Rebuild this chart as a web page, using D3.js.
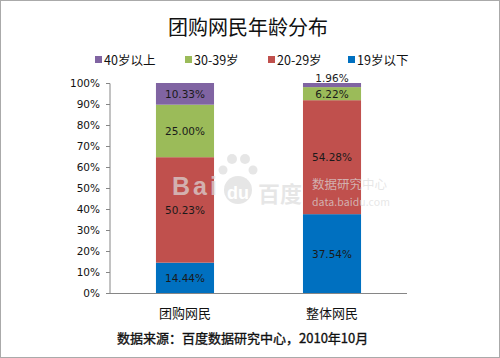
<!DOCTYPE html>
<html><head><meta charset="utf-8">
<script src="https://cdn.jsdelivr.net/npm/d3@7"></script>
<style>body{margin:0;background:#fff;}svg{display:block;font-family:"Noto Sans CJK SC","DejaVu Sans",sans-serif;}</style>
</head><body><svg id="c" width="500" height="358"></svg>
<script>
const categories = ["团购网民", "整体网民"];
const seriesNames = ["19岁以下", "20-29岁", "30-39岁", "40岁以上"];
const under19 = [14.44, 37.54];
const age20_29 = [50.23, 54.28];
const age30_39 = [25.00, 6.22];
const over40 = [10.33, 1.96];
const colors = ["#0070C0", "#C0504D", "#9BBB59", "#8064A2"];
const yTicks = [0,10,20,30,40,50,60,70,80,90,100];
const legendOrder = ["40岁以上", "30-39岁", "20-29岁", "19岁以下"];

const svg = d3.select("#c");
svg.append("rect").attr("x",0.5).attr("y",0.5).attr("width",499).attr("height",357)
  .attr("fill","#fff").attr("stroke","#aaa");

const data = categories.map((c,i)=>({cat:c, "19岁以下":under19[i], "20-29岁":age20_29[i], "30-39岁":age30_39[i], "40岁以上":over40[i]}));
const stack = d3.stack().keys(seriesNames)(data);

const x = d3.scaleBand().domain(categories).range([110,407]).paddingInner(0.605).paddingOuter(0.3126);
const y = d3.scaleLinear().domain([0,100]).range([293,83]);

// title
svg.append("text").attr("x",248).attr("y",35).attr("text-anchor","middle").attr("font-size",20).attr("fill","#111").text("团购网民年龄分布");

// legend
const lx = [95,185,268,348];
legendOrder.forEach((n,i)=>{
  const g = svg.append("g").attr("transform",`translate(${lx[i]},60)`);
  g.append("rect").attr("x",0).attr("y",-4).attr("width",7).attr("height",7).attr("fill",colors[seriesNames.indexOf(n)]);
  g.append("text").attr("x",9).attr("y",4.5).attr("font-size",12.5).attr("fill","#111").text(n);
});

// axis
const yAxis = d3.axisLeft(y).tickValues(yTicks).tickFormat(d=>d+"%").tickSize(4).tickPadding(6);
const ga = svg.append("g").attr("transform","translate(110,0)").call(yAxis);
ga.selectAll("path,line").attr("stroke","#868686");
ga.select(".domain").attr("d","M-4,83.5H0V293");
ga.selectAll("text").attr("fill","#111").attr("font-family","Verdana, DejaVu Sans, sans-serif").attr("font-size",10.5);
svg.append("line").attr("x1",106).attr("x2",407).attr("y1",293.5).attr("y2",293.5).attr("stroke","#868686");

// bars
stack.forEach((s,si)=>{
  svg.append("g").selectAll("rect").data(s).join("rect")
    .attr("x",d=>x(d.data.cat)).attr("width",x.bandwidth())
    .attr("y",d=>y(d[1])).attr("height",d=>y(d[0])-y(d[1]))
    .attr("fill",colors[si]);
});

// watermark (semi-transparent over everything)
const wm = svg.append("g").attr("fill","#dcdcdc").attr("fill-opacity",0.7).attr("font-weight","bold");
wm.append("text").attr("x",172).attr("y",195).attr("font-size",25).attr("font-family","Liberation Sans, Arial, sans-serif").attr("textLength",45).text("Bai");
wm.append("ellipse").attr("cx",238).attr("cy",190).attr("rx",14).attr("ry",14);
wm.append("circle").attr("cx",232).attr("cy",159).attr("r",5);
wm.append("circle").attr("cx",245).attr("cy",159).attr("r",5);
wm.append("circle").attr("cx",223).attr("cy",170).attr("r",4.5);
wm.append("circle").attr("cx",253).attr("cy",170).attr("r",4.5);
wm.append("text").attr("x",238).attr("y",199).attr("text-anchor","middle").attr("font-size",18).attr("fill","#fff").attr("fill-opacity",1).attr("font-family","Liberation Sans, Arial, sans-serif").text("du");
wm.append("text").attr("x",258).attr("y",202).attr("font-size",22).text("百度");
wm.append("text").attr("x",312).attr("y",189).attr("font-size",12.5).attr("font-weight","normal").text("数据研究中心");
wm.append("text").attr("x",312).attr("y",206).attr("font-size",10.5).attr("font-weight","normal").attr("textLength",78).text("data.baidu.com");

// labels
stack.forEach((s,si)=>{
  s.forEach(d=>{
    const v = d[1]-d[0];
    let cy = (y(d[0])+y(d[1]))/2;
    if (v < 3) cy = y(d[1]) - 5;
    svg.append("text").attr("x",x(d.data.cat)+x.bandwidth()/2).attr("y",cy+4)
      .attr("text-anchor","middle").attr("font-size",10.5).attr("fill","#1a1a1a")
      .attr("font-family","Verdana, DejaVu Sans, sans-serif")
      .text(v.toFixed(2)+"%");
  });
});

// category labels
categories.forEach(c=>{
  svg.append("text").attr("x",x(c)+x.bandwidth()/2).attr("y",318).attr("text-anchor","middle")
    .attr("font-size",13).attr("fill","#111").text(c);
});
// source
svg.append("text").attr("x",117).attr("y",343).attr("font-size",13).attr("fill","#111")
  .attr("stroke","#111").attr("stroke-width",0.35)
  .text("数据来源：百度数据研究中心，2010年10月");
</script></body></html>
